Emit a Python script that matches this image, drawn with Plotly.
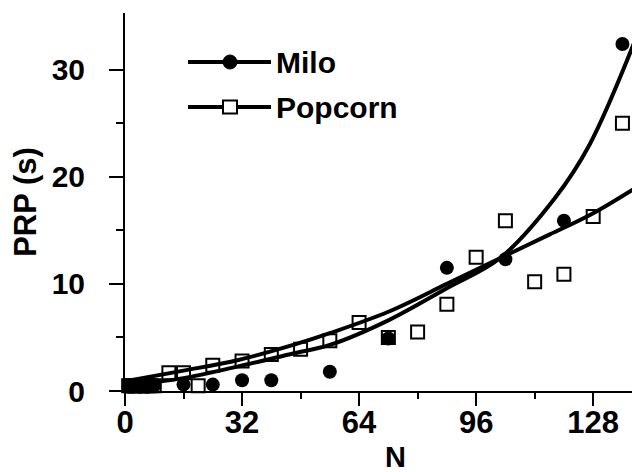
import plotly.graph_objects as go

# Milo (filled circles)
milo_n = [1, 2, 3, 4, 5, 6, 7, 8, 16, 24, 32, 40, 56, 72, 88, 104, 120, 136]
milo_prp = [0.4, 0.4, 0.5, 0.4, 0.5, 0.4, 0.5, 0.5, 0.6, 0.6, 1.0, 1.0, 1.8, 4.9, 11.5, 12.3, 15.9, 32.4]

# Popcorn (open squares)
pop_n = [1, 2, 3, 4, 5, 6, 7, 8, 12, 16, 20, 24, 32, 40, 48, 56, 64, 72, 80, 88, 96, 104, 112, 120, 128, 136]
pop_prp = [0.5, 0.5, 0.5, 0.5, 0.5, 0.5, 0.5, 0.5, 1.7, 1.7, 0.5, 2.4, 2.8, 3.4, 3.9, 4.7, 6.4, 5.0, 5.5, 8.1, 12.5, 15.9, 10.2, 10.9, 16.3, 25.0]

# fitted curves
milo_fit_n = [0, 16, 31, 46, 56, 72, 88, 102.5, 117.5, 127, 140]
milo_fit_prp = [0.5, 1.2, 2.3, 3.5, 4.3, 6.6, 9.6, 12.4, 18.0, 23.0, 33.2]
pop_fit_n = [0, 16, 31, 46, 56, 72, 88, 102.5, 116, 127.5, 140.7]
pop_fit_prp = [0.9, 1.9, 2.9, 4.3, 5.4, 7.4, 10.0, 12.4, 14.6, 16.5, 19.2]

x_ticks = [0, 32, 64, 96, 128]
x_minor = [16, 48, 80, 112]
N_MAX = 140.8

FONT = 'Liberation Sans, Arial, sans-serif'

fig = go.Figure()

# curves go on the overlay axis x2 (same range as x) which carries the tick marks
fig.add_trace(go.Scatter(x=milo_fit_n, y=milo_fit_prp, mode='lines', line_shape='spline', xaxis='x2',
                         line=dict(color='black', width=4), showlegend=False, cliponaxis=False))
fig.add_trace(go.Scatter(x=pop_fit_n, y=pop_fit_prp, mode='lines', line_shape='spline', xaxis='x2',
                         line=dict(color='black', width=4), showlegend=False, cliponaxis=False))
fig.add_trace(go.Scatter(x=pop_n, y=pop_prp, mode='markers', showlegend=False, cliponaxis=False,
                         marker=dict(symbol='square', size=13, color='white',
                                     line=dict(color='black', width=2))))
fig.add_trace(go.Scatter(x=milo_n, y=milo_prp, mode='markers', showlegend=False, cliponaxis=False,
                         marker=dict(symbol='circle', size=14, color='black')))

# hand-made legend (long sample lines), positions in pixels of the plot area
def px(x):
    return (x - 117) / 515

def py(y):
    return (383 - y) / 378

shapes = []
for row_y, name in [(54, 'Milo'), (99, 'Popcorn')]:
    shapes.append(dict(type='line', xref='paper', yref='paper',
                       x0=px(180), x1=px(263), y0=py(row_y), y1=py(row_y),
                       line=dict(color='black', width=4)))
    fig.add_annotation(x=px(266), y=py(row_y), xref='paper', yref='paper', text=name,
                       showarrow=False, xanchor='left', yanchor='middle',
                       font=dict(family=FONT, size=30, color='black', weight='bold'))
shapes.append(dict(type='circle', xref='paper', yref='paper', x0=px(215), x1=px(229),
                   y0=py(61), y1=py(47), fillcolor='black', line=dict(color='black', width=1)))
shapes.append(dict(type='rect', xref='paper', yref='paper', x0=px(215), x1=px(229),
                   y0=py(105.5), y1=py(92.5), fillcolor='white', line=dict(color='black', width=2)))

# x axis title placed by hand so it sits where the reference has it
fig.add_annotation(x=px(387), y=py(467), xref='paper', yref='paper', text='N',
                   showarrow=False, xanchor='center', yanchor='bottom',
                   font=dict(family=FONT, size=29, color='black', weight='bold'))

fig.update_layout(
    width=640, height=472,
    margin=dict(l=117, r=8, t=5, b=89),
    paper_bgcolor='white', plot_bgcolor='white',
    font=dict(family=FONT, size=30, color='black', weight='bold'),
    shapes=shapes,
    xaxis=dict(range=[0, N_MAX], tickvals=x_ticks, showgrid=False, zeroline=False,
               showline=True, linecolor='black', linewidth=2, ticks='',
               tickfont=dict(size=31, weight='bold'), ticklabelstandoff=3),
    xaxis2=dict(range=[0, N_MAX], overlaying='x', anchor='y', side='bottom',
                tickvals=x_ticks, showticklabels=False, showgrid=False, zeroline=False, showline=False,
                ticks='outside', ticklen=14, tickwidth=2, tickcolor='black',
                minor=dict(tickvals=x_minor, ticks='outside', ticklen=7, tickwidth=2, tickcolor='black')),
)
fig.update_yaxes(range=[0, 35.3], tickvals=[0, 10, 20, 30], showgrid=False, zeroline=False,
                 showline=True, linecolor='black', linewidth=2,
                 ticks='outside', ticklen=14, tickwidth=2, tickcolor='black',
                 tickfont=dict(size=30, weight='bold'), ticklabelstandoff=18,
                 minor=dict(tickvals=[5, 15, 25], ticks='outside', ticklen=7, tickwidth=2, tickcolor='black'),
                 title=dict(text='PRP (s)', font=dict(size=31, weight='bold'), standoff=12))

fig.write_html("out.html")
